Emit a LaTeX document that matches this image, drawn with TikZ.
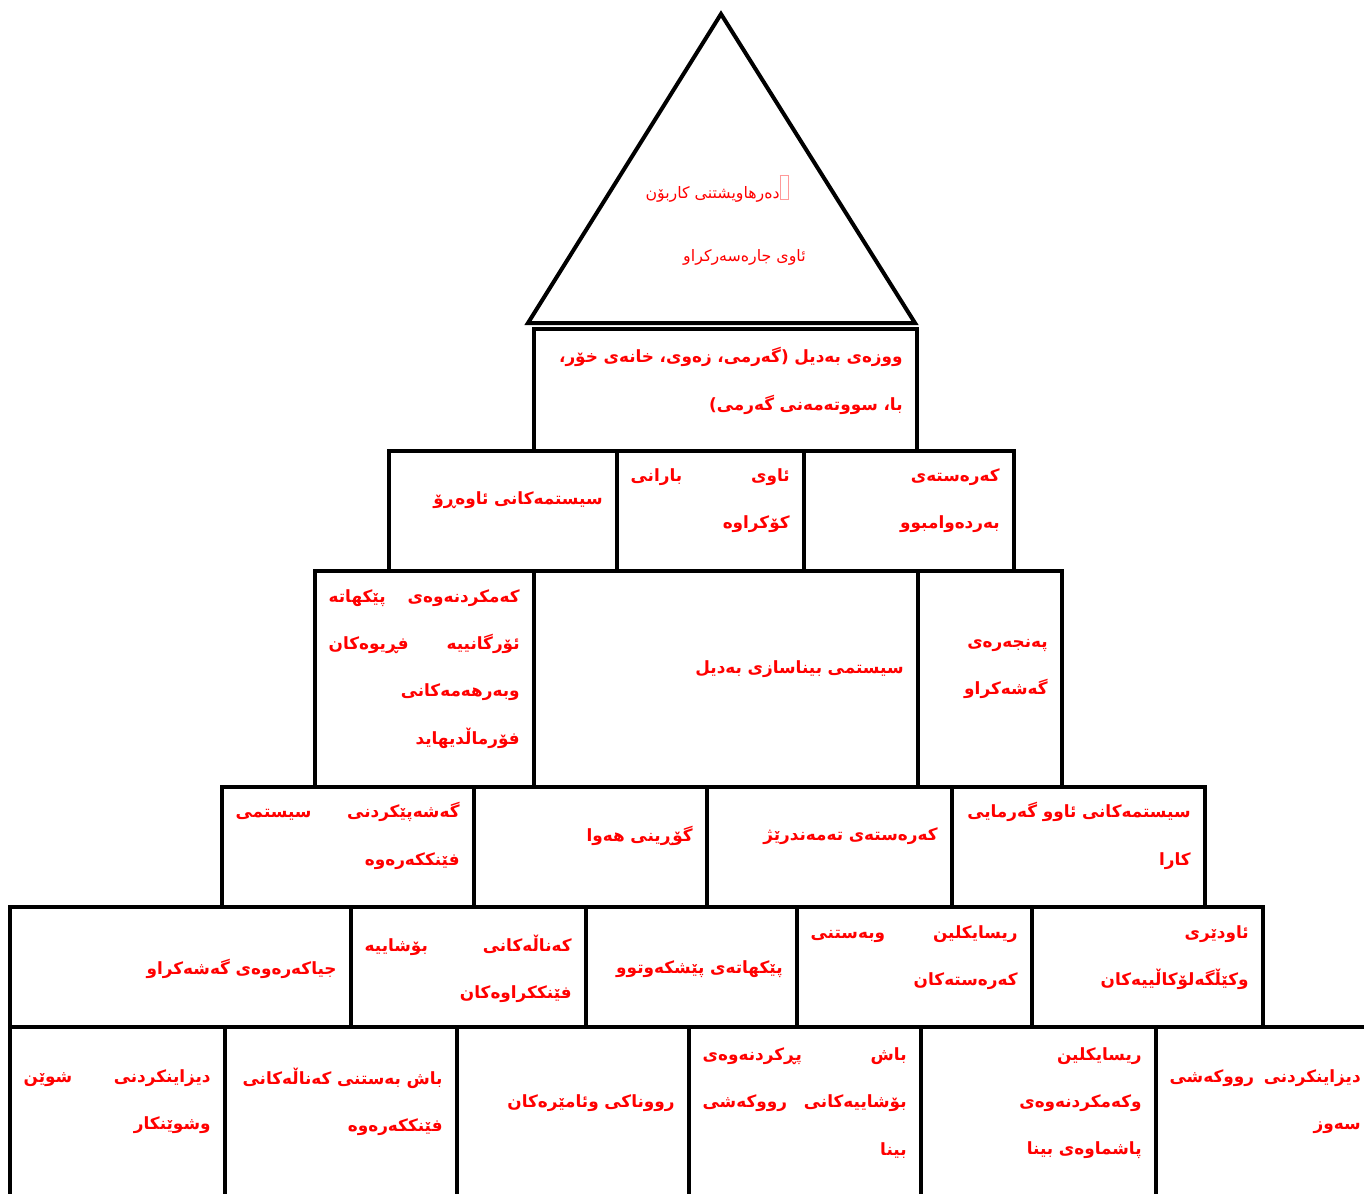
\documentclass[tikz,border=0pt]{standalone}
\usepackage{fontspec}
\usepackage{tikz}
\usetikzlibrary{positioning}
\newfontfamily\kufont[Script=Arabic]{DejaVu Sans}
\TeXXeTstate=1
\newdimen\pxu \pxu=0.02cm
\newcommand{\rl}[1]{\leavevmode\beginR #1\endR}
\newcommand{\jl}[2]{\noindent\hbox to\hsize{\beginR #1\hfill #2\endR}}
\newcommand{\tofu}{{\color{red!40}\fboxsep=0pt\fboxrule=0.4pt\fbox{\rule{0pt}{13pt}\hspace{4.3pt}}}}
\tikzset{
    % outlines
    frame/.style={draw=black, line width=3.5\pxu},
    roof/.style={draw=black, line width=4\pxu},
    % texts
    celltext/.style={font=\kufont\bfseries\fontsize{9.6pt}{26.9pt}\selectfont,
                     text=red, align=right, inner sep=0pt, anchor=east},
    tritext/.style={font=\kufont\fontsize{9pt}{11pt}\selectfont,
                    text=red, inner sep=0pt, anchor=east},
}

\begin{document}
\begin{tikzpicture}[x=0.02cm, y=-0.02cm]
    \useasboundingbox (0,0) rectangle (1364,1193);
    \clip (0,0) rectangle (1364,1193);

    % Roof
    \draw[roof] (721,14) -- (528,323) -- (915,323) -- cycle;
    \node[tritext] (tri-a) at (789,189) {\rl{دەرهاویشتنی کاربۆن}\tofu};
    \node[tritext] (tri-b) at (806,257) {\rl{ئاوی جارەسەرکراو}};

    % Row 1
    \draw[frame] (534,329) rectangle (917,451);
    \node[celltext, text width=370\pxu] (r1) at (903,381)
        {\rl{ووزەی بەدیل (گەرمی، زەوی، خانەی خۆر،}\\ \rl{با، سووتەمەنی گەرمی)}};

    % Row 2
    \foreach \xa/\xb in {389/617, 617/804, 804/1014} {
        \draw[frame] (\xa,451) rectangle (\xb,571);
    }
    \node[celltext, text width=182\pxu] (r2a) at (1000,501) {\rl{کەرەستەی}\\ \rl{بەردەوامبوو}};
    \node[celltext, text width=159\pxu] (r2b) at (790,501) {\jl{ئاوی}{بارانی}\\ \rl{کۆکراوە}};
    \node[celltext, text width=200\pxu] (r2c) at (603,500) {\rl{سیستمەکانی ئاوەڕۆ}};

    % Row 3
    \foreach \xa/\xb in {315/534, 534/918, 918/1062} {
        \draw[frame] (\xa,571) rectangle (\xb,787);
    }
    \node[celltext, text width=116\pxu] (r3a) at (1048,669) {\rl{پەنجەرەی}\\ \rl{گەشەکراو}};
    \node[celltext, text width=356\pxu] (r3b) at (904,669) {\rl{سیستمی بیناسازی بەدیل}};
    \node[celltext, text width=191\pxu] (r3c) at (520,669)
        {\jl{کەمکردنەوەی}{پێکهاتە}\\ \jl{ئۆرگانییە}{فڕیوەکان}\\ \rl{وبەرهەمەکانی}\\ \rl{فۆرماڵدیهاید}};

    % Row 4
    \foreach \xa/\xb in {222/474, 474/707, 707/952, 952/1205} {
        \draw[frame] (\xa,787) rectangle (\xb,907);
    }
    \node[celltext, text width=240\pxu] (r4a) at (1191,836) {\rl{سیستمەکانی ئاوو گەرمایی}\\ \rl{کارا}};
    \node[celltext, text width=217\pxu] (r4b) at (938,836) {\rl{کەرەستەی تەمەندرێژ}};
    \node[celltext, text width=205\pxu] (r4c) at (693,836) {\rl{گۆڕینی هەوا}};
    \node[celltext, text width=224\pxu] (r4d) at (460,836) {\jl{گەشەپێکردنی}{سیستمی}\\ \rl{فێنککەرەوە}};

    % Row 5
    \foreach \xa/\xb in {10/351, 351/586, 586/797, 797/1032, 1032/1263} {
        \draw[frame] (\xa,907) rectangle (\xb,1027);
    }
    \node[celltext, text width=203\pxu] (r5a) at (1249,958) {\rl{ئاودێری}\\ \rl{وکێڵگەلۆکاڵییەکان}};
    \node[celltext, text width=207\pxu] (r5b) at (1018,958) {\jl{ریسایکلین}{وبەستنی}\\ \rl{کەرەستەکان}};
    \node[celltext, text width=200\pxu] (r5c) at (783,969) {\rl{پێکهاتەی پێشکەوتوو}};
    \node[celltext, text width=207\pxu] (r5d) at (572,969) {\jl{کەناڵەکانی}{بۆشاییە}\\ \rl{فێنککراوەکان}};
    \node[celltext, text width=313\pxu] (r5e) at (337,969) {\rl{جیاکەرەوەی گەشەکراو}};

    % Row 6 (runs off the page)
    \foreach \xa/\xb in {10/225, 225/457, 457/689, 689/921, 921/1156, 1156/1375} {
        \draw[frame] (\xa,1027) rectangle (\xb,1260);
    }
    \node[celltext, text width=191\pxu] (r6a) at (1361,1102) {\jl{دیزاینکردنی}{رووکەشی}\\ \rl{سەوز}};
    \node[celltext, text width=207\pxu] (r6b) at (1142,1103)
        {\rl{ریسایکلین}\\ \rl{وکەمکردنەوەی}\\ \rl{پاشماوەی بینا}};
    \node[celltext, text width=204\pxu] (r6c) at (907,1103)
        {\jl{باش}{پڕکردنەوەی}\\ \jl{بۆشاییەکانی}{رووکەشی}\\ \rl{بینا}};
    \node[celltext, text width=204\pxu] (r6d) at (675,1103) {\rl{رووناکی وئامێرەکان}};
    \node[celltext, text width=220\pxu] (r6e) at (443,1102) {\rl{باش بەستنی کەناڵەکانی}\\ \rl{فێنککەرەوە}};
    \node[celltext, text width=187\pxu] (r6f) at (211,1102) {\jl{دیزاینکردنی}{شوێن}\\ \rl{وشوێنکار}};
\end{tikzpicture}
\end{document}
